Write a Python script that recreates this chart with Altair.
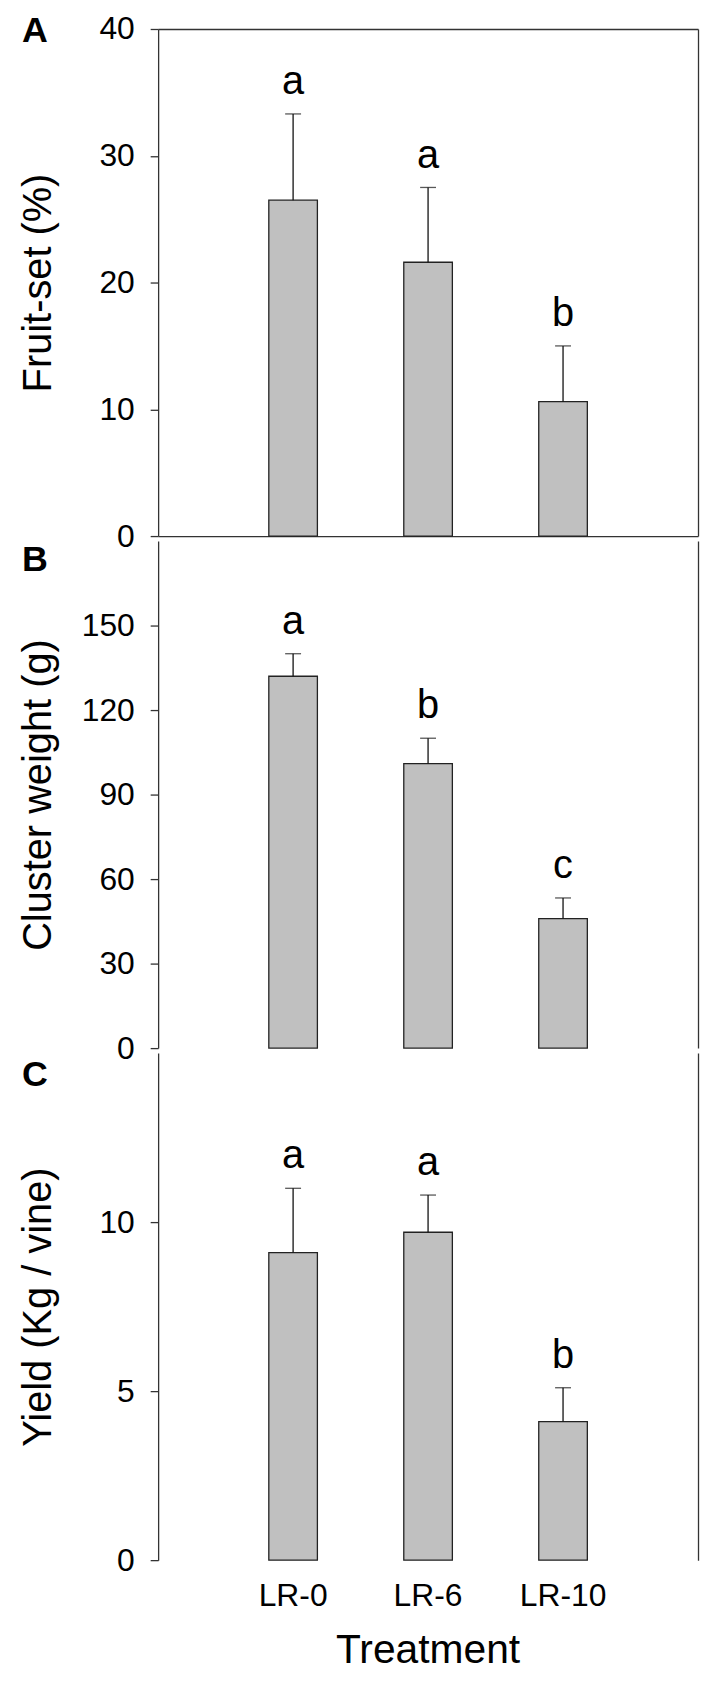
import altair as alt
import pandas as pd

# ---- data ----
treatments = ["LR-0", "LR-6", "LR-10"]

fruit_set = [26.5, 21.6, 10.6]
fruit_set_err = [6.8, 5.9, 4.4]
fruit_set_sig = ["a", "a", "b"]

cluster_weight = [132.0, 101.0, 46.0]
cluster_weight_err = [8.0, 9.0, 7.3]
cluster_weight_sig = ["a", "b", "c"]

yield_kg = [9.1, 9.7, 4.1]
yield_kg_err = [1.9, 1.1, 1.0]
yield_kg_sig = ["a", "a", "b"]

x_title = "Treatment"

W, H = 543, 510
FONT = "Liberation Sans"
LINE = "#333333"


def panel(tag, tag_y, means, errs, sigs, ytitle, ymax, yticks, top_border, bottom_labels):
    df = pd.DataFrame({
        "Treatment": treatments,
        "mean": means,
        "upper": [m + e for m, e in zip(means, errs)],
        "sig": sigs,
    })
    xscale = alt.Scale(domain=treatments, paddingInner=0.64, paddingOuter=0.82)
    yscale = alt.Scale(domain=[0, ymax], nice=False, zero=True)
    xenc = dict(field="Treatment", type="nominal", sort=treatments, scale=xscale)

    xaxis = alt.Axis(title=None, labels=False, ticks=False,
                     domainColor=LINE, domainWidth=1.3, grid=False)

    yaxis = alt.Axis(title=ytitle, values=yticks, tickSize=8, labelPadding=16,
                     labelFontSize=32, labelColor="black",
                     titleFontSize=40, titleFontWeight="normal", titleColor="black",
                     titleX=-108, titleY=H / 2, titleBaseline="alphabetic", titleAngle=270,
                     grid=False, domainColor=LINE, tickColor=LINE,
                     domainWidth=1.3, tickWidth=1.3)

    right_axis = alt.Axis(orient="right", labels=False, ticks=False, title=None,
                          domainColor=LINE, domainWidth=1.3, grid=False)
    if top_border:
        top_axis = alt.Axis(orient="top", labels=False, ticks=False, title=None,
                            domainColor=LINE, domainWidth=1.3, grid=False)
    else:
        top_axis = None

    base = alt.Chart(df)
    bars = base.mark_bar(fill="#c0c0c0", stroke="#222222", strokeWidth=1.3).encode(
        x=alt.X(**xenc, axis=xaxis),
        y=alt.Y("mean:Q", scale=yscale, axis=yaxis),
    )
    rules = base.mark_rule(color="#111111", strokeWidth=1.3).encode(
        x=alt.X(**xenc, axis=top_axis),
        y=alt.Y("mean:Q", scale=yscale, axis=right_axis),
        y2="upper:Q",
    )
    caps = base.mark_tick(color="#111111", thickness=1.3, size=16).encode(
        x=alt.X(**xenc, axis=None),
        y=alt.Y("upper:Q", scale=yscale, axis=None),
    )
    letters = base.mark_text(fontSize=40, baseline="alphabetic", dy=-20, color="black",
                             font=FONT).encode(
        x=alt.X(**xenc, axis=None),
        y=alt.Y("upper:Q", scale=yscale, axis=None),
        text="sig:N",
    )
    label = alt.Chart(pd.DataFrame({"tag": [tag]})).mark_text(
        fontSize=36, fontWeight="bold", align="left", baseline="top", color="black", font=FONT
    ).encode(x=alt.value(-137), y=alt.value(tag_y), text="tag:N")

    layers = [bars, rules, caps, letters, label]

    if bottom_labels:
        # category labels under the bars, placed by the band scale
        cat_labels = base.mark_text(fontSize=32, baseline="top", color="black",
                                    font=FONT).encode(
            x=alt.X(**xenc, axis=None),
            y=alt.value(H + 21.5),
            text="Treatment:N",
        )
        xt = alt.Chart(pd.DataFrame({"title": [x_title]})).mark_text(
            fontSize=41, baseline="alphabetic", align="center", color="black", font=FONT
        ).encode(x=alt.value(W / 2), y=alt.value(H + 103), text="title:N")
        layers += [cat_labels, xt]

    layer = alt.layer(*layers)
    if top_border:
        layer = layer.resolve_axis(x="independent", y="independent")
    else:
        layer = layer.resolve_axis(y="independent")
    return layer.properties(width=W, height=H)


pA = panel("A", -15, fruit_set, fruit_set_err, fruit_set_sig, "Fruit-set (%)",
           40, [0, 10, 20, 30, 40], True, False)
pB = panel("B", 2, cluster_weight, cluster_weight_err, cluster_weight_sig, "Cluster weight (g)",
           180, [0, 30, 60, 90, 120, 150], False, False)
pC = panel("C", 5, yield_kg, yield_kg_err, yield_kg_sig, "Yield (Kg / vine)",
           15, [0, 5, 10], False, True)

chart = (
    alt.vconcat(pA, pB, pC, spacing=5, bounds="flush")
    .resolve_scale(y="independent")
    .properties(padding={"left": 11, "top": 0, "right": 2, "bottom": 104})
    .configure(font=FONT)
    .configure_view(stroke=None)
)

chart.save("out.html", embed_options={"renderer": "svg", "actions": False})
